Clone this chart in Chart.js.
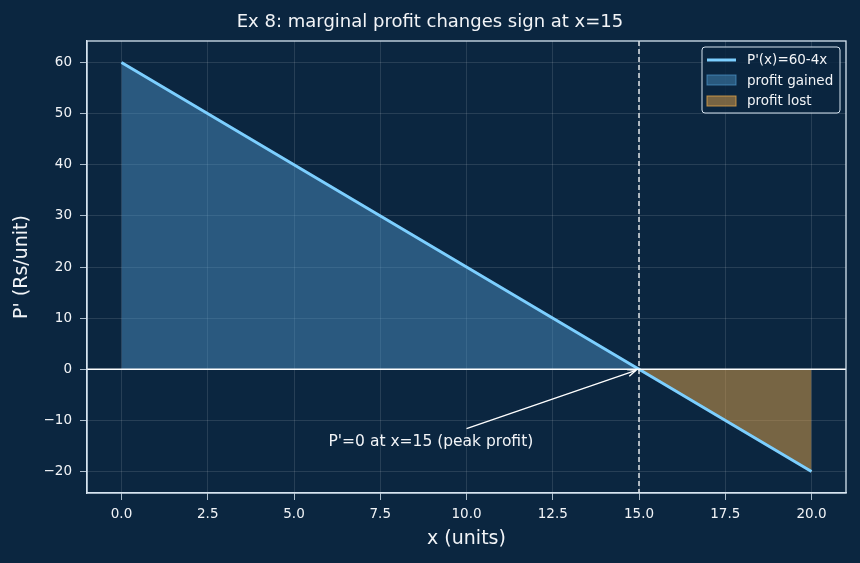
<!DOCTYPE html>
<html>
<head>
<meta charset="utf-8">
<script src="https://cdn.jsdelivr.net/npm/chart.js@4"></script>
<style>
  html, body { margin: 0; padding: 0; background: #0b2640; }
  #wrap { width: 860px; height: 563px; }
</style>
</head>
<body>
<div id="wrap"><canvas id="profitChart" width="860" height="563"></canvas></div>
<script>
// values
const xValues = [0, 5, 10, 15, 20];
const marginalProfit = [60, 40, 20, 0, -20];
const peakX = 15;
const xTicks = [0, 2.5, 5, 7.5, 10, 12.5, 15, 17.5, 20];
const yTicks = [-20, -10, 0, 10, 20, 30, 40, 50, 60];
const noteText = "P'=0 at x=15 (peak profit)";
const noteFrom = { x: 10, y: -11.6 };
const noteTextAt = { x: 6, y: -14.2 };

const FONT = "'DejaVu Sans', sans-serif";
const TEXT = '#f2f4f7';
const AXIS = '#d6e4f0';
const LINE = '#7ccfff';
const GAIN_FILL = 'rgba(79, 153, 204, 0.45)';
const GAIN_EDGE = 'rgba(79, 153, 204, 0.7)';
const LOST_FILL = 'rgba(228, 164, 72, 0.5)';
const LOST_EDGE = 'rgba(228, 164, 72, 0.8)';

const linePoints = xValues.map((x, i) => ({ x: x, y: marginalProfit[i] }));
const gained = linePoints.filter((p) => p.x <= peakX);
const lost = linePoints.filter((p) => p.x >= peakX);

const decorations = {
    id: 'decorations',
    afterDatasetsDraw(chart) {
        const { ctx, chartArea: a, scales } = chart;
        const xs = scales.x, ys = scales.y;
        ctx.save();

        // axhline at 0
        const y0 = ys.getPixelForValue(0);
        ctx.strokeStyle = '#ffffff';
        ctx.lineWidth = 1.3;
        ctx.beginPath();
        ctx.moveTo(a.left, y0);
        ctx.lineTo(a.right, y0);
        ctx.stroke();

        // axvline at peak, dashed
        const xp = xs.getPixelForValue(peakX);
        ctx.setLineDash([5, 3]);
        ctx.beginPath();
        ctx.moveTo(xp, a.top);
        ctx.lineTo(xp, a.bottom);
        ctx.stroke();
        ctx.setLineDash([]);

        // annotation arrow
        const tx = xs.getPixelForValue(noteFrom.x), ty = ys.getPixelForValue(noteFrom.y);
        const hx = xp - 3, hy = y0 + 1;
        ctx.lineWidth = 1.3;
        ctx.beginPath();
        ctx.moveTo(tx, ty);
        ctx.lineTo(hx, hy);
        ctx.stroke();
        const ang = Math.atan2(hy - ty, hx - tx);
        ctx.beginPath();
        ctx.moveTo(hx - 9 * Math.cos(ang - 0.4), hy - 9 * Math.sin(ang - 0.4));
        ctx.lineTo(hx, hy);
        ctx.lineTo(hx - 9 * Math.cos(ang + 0.4), hy - 9 * Math.sin(ang + 0.4));
        ctx.stroke();

        ctx.fillStyle = TEXT;
        ctx.font = '15.5px ' + FONT;
        ctx.textAlign = 'left';
        ctx.textBaseline = 'middle';
        ctx.fillText(noteText, xs.getPixelForValue(noteTextAt.x), ys.getPixelForValue(noteTextAt.y));
        ctx.restore();
    },
    afterDraw(chart) {
        const { ctx, chartArea: a } = chart;
        ctx.save();
        // frame
        ctx.strokeStyle = AXIS;
        ctx.lineWidth = 1.3;
        ctx.strokeRect(a.left, a.top, a.right - a.left, a.bottom - a.top);

        // titles
        ctx.fillStyle = TEXT;
        ctx.textAlign = 'center';
        ctx.textBaseline = 'middle';
        ctx.font = '18px ' + FONT;
        ctx.fillText('Ex 8: marginal profit changes sign at x=15', chart.width / 2, 22);
        ctx.font = '19px ' + FONT;
        ctx.fillText('x (units)', (a.left + a.right) / 2, 539);
        ctx.translate(22, (a.top + a.bottom) / 2);
        ctx.rotate(-Math.PI / 2);
        ctx.fillText("P' (Rs/unit)", 0, 0);
        ctx.restore();

        // legend
        ctx.save();
        const lx = a.right - 144, ly = a.top + 6, lw = 138, lh = 66;
        ctx.fillStyle = 'rgba(11, 38, 64, 0.85)';
        ctx.strokeStyle = AXIS;
        ctx.lineWidth = 1;
        ctx.beginPath();
        ctx.roundRect(lx, ly, lw, lh, 3);
        ctx.fill();
        ctx.stroke();
        ctx.strokeStyle = LINE;
        ctx.lineWidth = 3;
        ctx.beginPath();
        ctx.moveTo(lx + 5, ly + 13);
        ctx.lineTo(lx + 34, ly + 13);
        ctx.stroke();
        ctx.lineWidth = 1;
        ctx.fillStyle = GAIN_FILL;
        ctx.strokeStyle = GAIN_EDGE;
        ctx.fillRect(lx + 5, ly + 28, 29, 10);
        ctx.strokeRect(lx + 5, ly + 28, 29, 10);
        ctx.fillStyle = LOST_FILL;
        ctx.strokeStyle = LOST_EDGE;
        ctx.fillRect(lx + 5, ly + 49, 29, 10);
        ctx.strokeRect(lx + 5, ly + 49, 29, 10);
        ctx.fillStyle = TEXT;
        ctx.font = '13.5px ' + FONT;
        ctx.textAlign = 'left';
        ctx.textBaseline = 'middle';
        ctx.fillText("P'(x)=60-4x", lx + 45, ly + 13);
        ctx.fillText('profit gained', lx + 45, ly + 34);
        ctx.fillText('profit lost', lx + 45, ly + 54);
        ctx.restore();
    }
};

const bgPlugin = {
    id: 'bg',
    beforeDraw(chart) {
        const ctx = chart.ctx;
        ctx.save();
        ctx.fillStyle = '#0b2640';
        ctx.fillRect(0, 0, chart.width, chart.height);
        ctx.restore();
    }
};

new Chart(document.getElementById('profitChart'), {
    type: 'scatter',
    data: {
        datasets: [
            {
                label: 'profit gained',
                data: gained,
                showLine: true,
                fill: 'origin',
                backgroundColor: GAIN_FILL,
                borderColor: 'rgba(79, 153, 204, 0.6)',
                borderWidth: 1,
                pointRadius: 0,
                order: 3
            },
            {
                label: 'profit lost',
                data: lost,
                showLine: true,
                fill: 'origin',
                backgroundColor: LOST_FILL,
                borderColor: 'rgba(228, 164, 72, 0.7)',
                borderWidth: 1,
                pointRadius: 0,
                order: 2
            },
            {
                label: "P'(x)=60-4x",
                data: linePoints,
                showLine: true,
                fill: false,
                borderColor: LINE,
                borderWidth: 3,
                pointRadius: 0,
                order: 1
            }
        ]
    },
    options: {
        responsive: false,
        animation: false,
        layout: { padding: { top: 41, right: 14, left: 0, bottom: 0 } },
        plugins: {
            legend: { display: false },
            title: { display: false },
            tooltip: { enabled: false }
        },
        scales: {
            x: {
                type: 'linear',
                min: -1,
                max: 21,
                afterFit(scale) { scale.height = 70; },
                afterBuildTicks(scale) { scale.ticks = xTicks.map((v) => ({ value: v })); },
                grid: { color: 'rgba(255,255,255,0.15)', tickColor: AXIS, tickLength: 7, lineWidth: 0.8 },
                border: { color: AXIS, width: 1.3 },
                ticks: {
                    color: TEXT,
                    font: { family: FONT, size: 13.5 },
                    padding: 6,
                    maxRotation: 0,
                    callback: (v) => v.toFixed(1)
                }
            },
            y: {
                type: 'linear',
                min: -24.2,
                max: 64.2,
                afterFit(scale) { scale.width = 87; },
                afterBuildTicks(scale) { scale.ticks = yTicks.map((v) => ({ value: v })); },
                grid: { color: 'rgba(255,255,255,0.15)', tickColor: AXIS, tickLength: 7, lineWidth: 0.8 },
                border: { color: AXIS, width: 1.3 },
                ticks: {
                    color: TEXT,
                    font: { family: FONT, size: 13.5 },
                    padding: 8,
                    callback: (v) => (v < 0 ? '\u2212' + Math.abs(v) : String(v))
                }
            }
        }
    },
    plugins: [bgPlugin, decorations]
});
</script>
</body>
</html>
